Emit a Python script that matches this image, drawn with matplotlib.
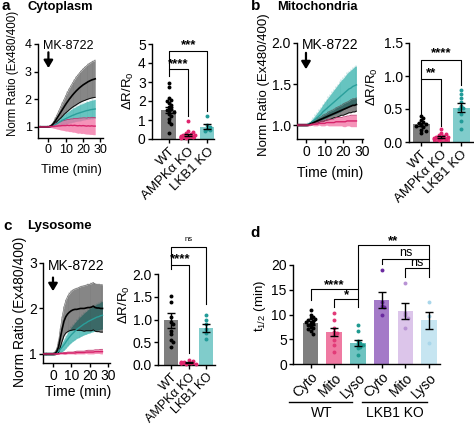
import numpy as np
import matplotlib
matplotlib.use('Agg')
import matplotlib.pyplot as plt
from matplotlib.lines import Line2D

plt.rcParams['font.family'] = ['Liberation Sans', 'DejaVu Sans']
plt.rcParams['mathtext.fontset'] = 'custom'
plt.rcParams['mathtext.rm'] = 'Liberation Sans'
plt.rcParams['mathtext.it'] = 'Liberation Sans:italic'

# ---------------- data ----------------
time_min = list(range(-5, 28))

# panel a (cytoplasm) time course
a_wt_mean = [1.0, 1.0, 1.0, 1.0, 1.0, 1.0, 1.02, 1.06, 1.13, 1.22, 1.32, 1.42, 1.52, 1.62, 1.72, 1.82, 1.91,
             2.0, 2.08, 2.16, 2.23, 2.3, 2.36, 2.42, 2.47, 2.52, 2.56, 2.6, 2.64, 2.67, 2.7, 2.72, 2.74]
a_wt_sem = [0.02, 0.02, 0.02, 0.02, 0.02, 0.02, 0.03, 0.04, 0.06, 0.09, 0.12, 0.16, 0.2, 0.24, 0.27, 0.31, 0.35,
            0.38, 0.41, 0.44, 0.47, 0.5, 0.52, 0.54, 0.56, 0.58, 0.6, 0.61, 0.63, 0.64, 0.65, 0.66, 0.67]
a_lkb_mean = [1.0, 1.0, 1.0, 1.0, 1.0, 1.0, 1.01, 1.03, 1.06, 1.09, 1.12, 1.16, 1.2, 1.24, 1.27, 1.3, 1.33,
              1.36, 1.39, 1.42, 1.44, 1.47, 1.49, 1.51, 1.53, 1.55, 1.57, 1.59, 1.6, 1.62, 1.63, 1.64, 1.65]
a_lkb_sem = [0.02, 0.02, 0.02, 0.02, 0.02, 0.02, 0.03, 0.04, 0.06, 0.08, 0.1, 0.12, 0.14, 0.16, 0.18, 0.2, 0.21,
             0.22, 0.24, 0.25, 0.26, 0.27, 0.28, 0.29, 0.3, 0.3, 0.31, 0.32, 0.32, 0.33, 0.33, 0.34, 0.34]
a_ampk_mean = [1.0, 1.0, 1.0, 1.0, 1.0, 1.0, 1.01, 1.02, 1.02, 1.03, 1.03, 1.04, 1.04, 1.05, 1.05, 1.05, 1.06,
               1.05, 1.06, 1.05, 1.06, 1.05, 1.04, 1.05, 1.04, 1.05, 1.04, 1.03, 1.04, 1.03, 1.04, 1.03, 1.03]
a_ampk_sem = [0.02, 0.02, 0.02, 0.02, 0.02, 0.02, 0.03, 0.05, 0.07, 0.09, 0.11, 0.13, 0.15, 0.17, 0.18, 0.2, 0.21,
              0.22, 0.23, 0.24, 0.25, 0.26, 0.27, 0.27, 0.28, 0.28, 0.29, 0.29, 0.3, 0.3, 0.31, 0.31, 0.31]

# panel b (mitochondria) time course
b_wt_mean = [1.0, 1.0, 1.0, 1.0, 1.0, 1.0, 1.0, 1.01, 1.02, 1.03, 1.04, 1.05, 1.06, 1.07, 1.08, 1.09, 1.1,
             1.11, 1.12, 1.13, 1.14, 1.15, 1.16, 1.17, 1.18, 1.19, 1.2, 1.21, 1.22, 1.23, 1.24, 1.24, 1.25]
b_wt_sem = [0.01, 0.01, 0.01, 0.01, 0.01, 0.01, 0.01, 0.01, 0.02, 0.02, 0.02, 0.03, 0.03, 0.03, 0.04, 0.04, 0.04,
            0.05, 0.05, 0.05, 0.05, 0.06, 0.06, 0.06, 0.06, 0.07, 0.07, 0.07, 0.07, 0.08, 0.08, 0.08, 0.08]
b_lkb_mean = [1.0, 1.0, 1.0, 1.0, 1.0, 1.0, 1.01, 1.02, 1.03, 1.05, 1.07, 1.09, 1.11, 1.13, 1.16, 1.18, 1.2,
              1.22, 1.24, 1.26, 1.28, 1.3, 1.32, 1.34, 1.36, 1.38, 1.4, 1.42, 1.44, 1.45, 1.47, 1.48, 1.49]
b_lkb_sem = [0.01, 0.01, 0.01, 0.01, 0.01, 0.01, 0.01, 0.02, 0.03, 0.04, 0.05, 0.06, 0.07, 0.08, 0.09, 0.1, 0.11,
             0.12, 0.13, 0.14, 0.15, 0.16, 0.17, 0.18, 0.19, 0.19, 0.2, 0.21, 0.21, 0.22, 0.22, 0.23, 0.23]
b_ampk_mean = [1.0, 1.0, 1.0, 1.0, 1.0, 1.0, 1.0, 1.0, 1.01, 1.01, 1.01, 1.01, 1.02, 1.02, 1.02, 1.02, 1.03,
               1.03, 1.03, 1.03, 1.03, 1.04, 1.04, 1.04, 1.04, 1.04, 1.04, 1.05, 1.05, 1.05, 1.05, 1.05, 1.05]
b_ampk_sem = [0.01, 0.01, 0.01, 0.01, 0.01, 0.01, 0.01, 0.01, 0.01, 0.02, 0.02, 0.02, 0.02, 0.03, 0.03, 0.03, 0.03,
              0.04, 0.04, 0.04, 0.04, 0.05, 0.05, 0.05, 0.05, 0.06, 0.06, 0.06, 0.06, 0.07, 0.07, 0.07, 0.07]

# panel c (lysosome) time course
c_wt_mean = [1.0, 1.0, 1.0, 1.0, 1.0, 1.0, 1.01, 1.05, 1.15, 1.35, 1.55, 1.72, 1.82, 1.88, 1.92, 1.95, 1.97,
             1.98, 1.98, 1.99, 2.0, 2.0, 2.0, 2.01, 2.02, 2.02, 2.03, 2.05, 2.02, 2.01, 2.01, 2.0, 2.0]
c_wt_sem = [0.02, 0.02, 0.02, 0.02, 0.02, 0.02, 0.03, 0.06, 0.12, 0.2, 0.27, 0.32, 0.36, 0.39, 0.41, 0.43, 0.44,
            0.45, 0.46, 0.47, 0.48, 0.49, 0.5, 0.5, 0.51, 0.51, 0.52, 0.52, 0.52, 0.52, 0.52, 0.52, 0.52]
c_lkb_mean = [1.0, 1.0, 1.0, 1.0, 1.0, 1.0, 1.01, 1.03, 1.06, 1.1, 1.15, 1.2, 1.26, 1.32, 1.37, 1.42, 1.46,
              1.5, 1.54, 1.57, 1.6, 1.63, 1.66, 1.68, 1.71, 1.73, 1.75, 1.77, 1.79, 1.81, 1.82, 1.84, 1.85]
c_lkb_sem = [0.02, 0.02, 0.02, 0.02, 0.02, 0.02, 0.02, 0.04, 0.06, 0.08, 0.1, 0.12, 0.14, 0.15, 0.16, 0.17, 0.18,
             0.19, 0.2, 0.21, 0.22, 0.23, 0.24, 0.25, 0.26, 0.27, 0.27, 0.28, 0.28, 0.29, 0.29, 0.3, 0.3]
c_ampk_mean = [1.0, 1.0, 1.0, 1.0, 1.0, 1.0, 1.0, 1.0, 1.0, 1.01, 1.01, 1.01, 1.01, 1.02, 1.02, 1.02, 1.02,
               1.02, 1.03, 1.03, 1.03, 1.03, 1.03, 1.04, 1.04, 1.04, 1.04, 1.04, 1.05, 1.05, 1.05, 1.05, 1.05]
c_ampk_sem = [0.01, 0.01, 0.01, 0.01, 0.01, 0.01, 0.01, 0.01, 0.01, 0.01, 0.01, 0.02, 0.02, 0.02, 0.02, 0.02, 0.02,
              0.03, 0.03, 0.03, 0.03, 0.03, 0.03, 0.03, 0.04, 0.04, 0.04, 0.04, 0.04, 0.04, 0.04, 0.05, 0.05]

# bar panels: categories, bar means/sem and individual points
genotypes = ['WT', 'AMPKα KO', 'LKB1 KO']

a_bar_mean = [1.53, 0.22, 0.65]
a_bar_sem = [0.14, 0.06, 0.12]
a_pts = [
    [2.95, 2.75, 2.15, 2.05, 2.0, 1.9, 1.8, 1.7, 1.6, 1.55, 1.45, 1.4, 1.3, 1.2, 1.05, 0.9, 0.8, 0.32],
    [0.95, 0.4, 0.35, 0.3, 0.25, 0.22, 0.2, 0.18, 0.15, 0.12, 0.1, 0.08, 0.06, 0.05],
    [1.2, 0.75, 0.65, 0.55, 0.45, 0.4],
]

b_bar_mean = [0.27, 0.08, 0.52]
b_bar_sem = [0.025, 0.013, 0.065]
b_pts = [
    [0.4, 0.36, 0.33, 0.3, 0.29, 0.27, 0.26, 0.24, 0.22, 0.18, 0.16, 0.13],
    [0.2, 0.14, 0.12, 0.1, 0.09, 0.08, 0.07, 0.06, 0.05, 0.04, 0.06, 0.03],
    [0.79, 0.72, 0.66, 0.6, 0.55, 0.52, 0.5, 0.42, 0.32, 0.2],
]

c_bar_mean = [0.98, 0.05, 0.82]
c_bar_sem = [0.16, 0.01, 0.09]
c_pts = [
    [1.52, 1.38, 1.05, 0.95, 0.9, 0.75, 0.68, 0.55, 0.5, 0.4],
    [0.1, 0.08, 0.07, 0.06, 0.05, 0.05, 0.04, 0.03, 0.02],
    [1.1, 1.0, 0.9, 0.8, 0.7, 0.58],
]

d_labels = ['Cyto', 'Mito', 'Lyso', 'Cyto', 'Mito', 'Lyso']
d_groups = ['WT', 'LKB1 KO']
d_bar_mean = [8.2, 6.5, 4.2, 12.9, 10.7, 8.8]
d_bar_sem = [0.4, 0.85, 0.65, 1.6, 1.6, 1.7]
d_pts = [
    [10.9, 9.9, 9.5, 9.2, 9.0, 8.8, 8.7, 8.5, 8.3, 8.0, 7.8, 7.5, 7.2, 7.0, 6.6, 6.1],
    [10.4, 8.8, 7.2, 6.5, 6.2, 5.8, 4.8, 3.8, 2.5],
    [7.9, 6.6, 4.6, 4.3, 4.0, 3.8, 3.5, 3.2, 1.9],
    [19.0, 12.5, 11.8, 11.5, 9.8],
    [16.4, 10.4, 9.8, 9.3, 7.3],
    [12.5, 9.6, 4.3],
]

# ---------------- styling ----------------
W, H = 474, 424
fig = plt.figure(figsize=(W / 100, H / 100), dpi=100)

GRAY = '#7f7f7f'
PINK_BAR, PINK_DOT = '#e8457f', '#e0246d'
TEAL_BAR, TEAL_DOT = '#80cccb', '#229b98'
TEAL_BAND, TEAL_LINE = '#6dc8c4', '#2a9f9b'
PINK_BAND, PINK_LINE = '#f26fa2', '#d6236a'
bar_cols = [GRAY, PINK_BAR, TEAL_BAR]
dot_cols = ['black', PINK_DOT, TEAL_DOT]
d_bar_cols = [GRAY, '#ef7aa2', '#6ec3c0', '#a47ac8', '#dcc5ea', '#c6e5f1']
d_dot_cols = ['black', '#e23a77', '#1f9a90', '#6a2a9f', '#b892d4', '#a9d6ea']


def add_ax(x0, y0, x1, y1):
    return fig.add_axes([x0 / W, 1 - y1 / H, (x1 - x0) / W, (y1 - y0) / H])


def ftext(x, y, s, **kw):
    fig.text(x / W, 1 - y / H, s, **kw)


def style(ax, fs):
    for s in ['top', 'right']:
        ax.spines[s].set_visible(False)
    for s in ['left', 'bottom']:
        ax.spines[s].set_linewidth(1.0)
    ax.tick_params(direction='out', length=3, width=1, labelsize=fs, pad=1.5)


def timecourse(ax, wt, lkb, ampk, fs):
    t = np.array(time_min)
    # teal
    m, s = np.array(lkb[0]), np.array(lkb[1])
    ax.fill_between(t, m - s, m + s, color=TEAL_BAND, lw=0, zorder=1)
    ax.errorbar(t, m, yerr=s, fmt='none', ecolor=TEAL_LINE, elinewidth=0.3, capsize=1, capthick=0.3,
                alpha=0.45, zorder=1.5)
    ax.plot(t, m, color=TEAL_LINE, lw=1.0, zorder=4)
    # WT
    m, s = np.array(wt[0]), np.array(wt[1])
    ax.fill_between(t, m - s, m + s, color='black', alpha=0.45, lw=0, zorder=2)
    ax.errorbar(t, m, yerr=s, fmt='none', ecolor='#5a5a5a', elinewidth=0.3, capsize=1, capthick=0.3,
                alpha=0.5, zorder=2.5)
    ax.plot(t, m - s, color='black', lw=0.6, zorder=2.6)
    ax.plot(t, m + s, color='#555555', lw=0.4, zorder=2.6)
    ax.plot(t, m, color='black', lw=1.2, zorder=5)
    # pink
    m, s = np.array(ampk[0]), np.array(ampk[1])
    ax.fill_between(t, m - s, m + s, color=PINK_BAND, alpha=0.75, lw=0, zorder=3)
    ax.plot(t, m + s, color='#c2336e', lw=0.6, zorder=3.2)
    ax.plot(t, m, color=PINK_LINE, lw=1.0, zorder=6)
    ax.set_xticks([0, 10, 20, 30])
    style(ax, fs)


def swarm(vals, center, pxx, pxy, r=2.8):
    vals = np.array(vals, dtype=float)
    order = np.argsort(-vals)
    placed = []
    xs = np.zeros(len(vals))
    for i in order:
        y = vals[i] * pxy
        for k in [0, 1, -1, 2, -2, 3, -3]:
            x = k * r * 0.85
            if all((x - px) ** 2 + (y - py) ** 2 >= r * r for px, py in placed):
                break
        placed.append((x, y))
        xs[i] = center + x / pxx
    return xs


def bars(ax, means, sems, pts, bcols, dcols, pxx, pxy, width, fs):
    pos = np.arange(len(means))
    ax.bar(pos, means, width=width, color=bcols, zorder=1)
    for i in range(len(means)):
        xs = swarm(pts[i], pos[i], pxx, pxy)
        ax.scatter(xs, pts[i], s=8, color=dcols[i], lw=0, zorder=3, clip_on=False)
        ax.errorbar(pos[i], means[i], yerr=sems[i], fmt='none', ecolor='black', elinewidth=1,
                    capsize=3, capthick=1, zorder=4)
    style(ax, fs)


def bracket(ax, x1, x2, y, b1, b2, txt, fs, ty, bold=True):
    ax.plot([x1, x1, x2, x2], [b1, y, y, b2], color='black', lw=0.8, clip_on=False, zorder=5)
    ax.text((x1 + x2) / 2, ty, txt, ha='center', va='center', fontsize=fs,
            fontweight='bold' if bold else 'normal', clip_on=False)


ARROW = dict(arrowstyle='-|>,head_length=0.5,head_width=0.3', color='black', lw=1.6,
             mutation_scale=9, shrinkA=0, shrinkB=0)

# ---------------- panel a ----------------
ax = add_ax(38, 44, 103, 138)
timecourse(ax, (a_wt_mean, a_wt_sem), (a_lkb_mean, a_lkb_sem), (a_ampk_mean, a_ampk_sem), 9)
ax.set_xlim(-6, 31.5)
ax.set_ylim(0.6, 4)
ax.set_yticks([1, 2, 3, 4])
ax.text(-3.0, 3.92, 'MK-8722', fontsize=9, va='center', ha='left')
ax.annotate('', xy=(0, 3.13), xytext=(0, 3.7), arrowprops=ARROW)
ftext(13, 73, 'Norm Ratio (Ex480/400)', rotation=90, ha='center', va='center', fontsize=8.3)
ftext(71, 170, 'Time (min)', ha='center', va='center', fontsize=9.3)

ax = add_ax(152, 44, 214, 139)
bars(ax, a_bar_mean, a_bar_sem, a_pts, bar_cols, dot_cols, 19.25, 19.0, 0.78, 10)
ax.set_xlim(-0.88, 2.34)
ax.set_ylim(0, 5)
ax.set_yticks([0, 1, 2, 3, 4, 5])
ax.set_xticks([0, 1, 2])
ax.set_xticklabels(genotypes, rotation=45, ha='right', rotation_mode='anchor', fontsize=9.5)
bracket(ax, 0, 1, 3.68, 3.3, 1.2, '****', 9.5, 3.93)
bracket(ax, 0, 2, 4.63, 3.68, 1.45, '***', 9.5, 4.93)
ftext(128, 91, r'$\Delta$R/R$_0$', rotation=90, ha='center', va='center', fontsize=9.5)

# ---------------- panel b ----------------
ax = add_ax(297, 43, 363, 139)
timecourse(ax, (b_wt_mean, b_wt_sem), (b_lkb_mean, b_lkb_sem), (b_ampk_mean, b_ampk_sem), 10)
ax.set_xlim(-4.8, 30.5)
ax.set_ylim(0.83, 2.0)
ax.set_yticks([1.0, 1.5, 2.0])
ax.set_yticklabels(['1.0', '1.5', '2.0'])
ax.text(-2.0, 1.975, 'MK-8722', fontsize=10, va='center', ha='left')
ax.annotate('', xy=(0, 1.68), xytext=(0, 1.88), arrowprops=ARROW)
ftext(264, 85, 'Norm Ratio (Ex480/400)', rotation=90, ha='center', va='center', fontsize=9.5)
ftext(330, 173, 'Time (min)', ha='center', va='center', fontsize=10)

ax = add_ax(409, 43, 473, 142)
bars(ax, b_bar_mean, b_bar_sem, b_pts, bar_cols, dot_cols, 20.0, 66.0, 0.85, 10)
ax.set_xlim(-0.6, 2.6)
ax.set_ylim(0, 1.5)
ax.set_yticks([0, 0.5, 1.0, 1.5])
ax.set_yticklabels(['0.0', '0.5', '1.0', '1.5'])
ax.set_xticks([0, 1, 2])
ax.set_xticklabels(genotypes, rotation=45, ha='right', rotation_mode='anchor', fontsize=9.5)
bracket(ax, 0, 1, 0.955, 0.41, 0.25, '**', 9.5, 1.04)
bracket(ax, 0, 2, 1.25, 0.955, 0.86, '****', 9.5, 1.34)
ftext(372, 87, r'$\Delta$R/R$_0$', rotation=90, ha='center', va='center', fontsize=9.5)

# ---------------- panel c ----------------
ax = add_ax(43, 263, 110, 363)
timecourse(ax, (c_wt_mean, c_wt_sem), (c_lkb_mean, c_lkb_sem), (c_ampk_mean, c_ampk_sem), 10)
ax.set_xlim(-5.45, 31.1)
ax.set_ylim(0.8, 3.0)
ax.set_yticks([1, 2, 3])
ax.text(-2.8, 2.93, 'MK-8722', fontsize=10, va='center', ha='left')
ax.annotate('', xy=(0, 2.38), xytext=(0, 2.68), arrowprops=ARROW)
ftext(20, 312, 'Norm Ratio (Ex480/400)', rotation=90, ha='center', va='center', fontsize=10)
ftext(78, 392, 'Time (min)', ha='center', va='center', fontsize=10)

ax = add_ax(158, 274, 215, 365)
bars(ax, c_bar_mean, c_bar_sem, c_pts, bar_cols, dot_cols, 17.5, 45.5, 0.78, 10)
ax.set_xlim(-0.74, 2.51)
ax.set_ylim(0, 2.0)
ax.set_yticks([0, 0.5, 1.0, 1.5, 2.0])
ax.set_yticklabels(['0.0', '0.5', '1.0', '1.5', '2.0'])
ax.set_xticks([0, 1, 2])
ax.set_xticklabels(genotypes, rotation=45, ha='right', rotation_mode='anchor', fontsize=9)
bracket(ax, 0, 1, 2.2, 2.12, 0.26, '****', 9.5, 2.32)
bracket(ax, 0, 2, 2.59, 2.2, 1.35, 'ns', 5.5, 2.75, bold=False)
ftext(124, 305, r'$\Delta$R/R$_0$', rotation=90, ha='center', va='center', fontsize=9.5)

# ---------------- panel d ----------------
ax = add_ax(293, 265, 440, 364)
bars(ax, d_bar_mean, d_bar_sem, d_pts, d_bar_cols, d_dot_cols, 23.7, 4.95, 0.66, 10)
ax.set_xlim(-0.74, 5.46)
ax.set_ylim(0, 20)
ax.set_yticks([0, 5, 10, 15, 20])
ax.set_xticks(range(6))
ax.set_xticklabels(d_labels, rotation=45, ha='right', rotation_mode='anchor', fontsize=10)
bracket(ax, 0, 2, 15.1, 12.9, 13.1, '****', 9.5, 15.9)
bracket(ax, 1, 2, 13.1, 11.6, 11.6, '*', 9.5, 13.9)
bracket(ax, 2, 5, 24.0, 15.1, 21.3, '**', 9.5, 24.8)
bracket(ax, 3, 5, 21.3, 20.3, 19.3, 'ns', 9, 22.4, bold=False)
bracket(ax, 4, 5, 19.3, 17.6, 17.6, 'ns', 9, 20.4, bold=False)
ftext(260, 306, r't$_{1/2}$ (min)', rotation=90, ha='center', va='center', fontsize=9.5)
fig.add_artist(Line2D([289 / W, 352 / W], [1 - 402 / H] * 2, color='black', lw=1))
fig.add_artist(Line2D([362 / W, 427 / W], [1 - 402 / H] * 2, color='black', lw=1))
ftext(322, 413, d_groups[0], ha='center', va='center', fontsize=10)
ftext(395, 413, d_groups[1], ha='center', va='center', fontsize=10)

# ---------------- panel titles ----------------
ftext(1, 6, 'a', fontsize=11, fontweight='bold', ha='left', va='center')
ftext(27, 7, 'Cytoplasm', fontsize=9.3, fontweight='bold', ha='left', va='center')
ftext(251, 6, 'b', fontsize=11, fontweight='bold', ha='left', va='center')
ftext(277, 7, 'Mitochondria', fontsize=9.3, fontweight='bold', ha='left', va='center')
ftext(3, 226, 'c', fontsize=11, fontweight='bold', ha='left', va='center')
ftext(27, 226, 'Lysosome', fontsize=9.5, fontweight='bold', ha='left', va='center')
ftext(250, 233, 'd', fontsize=11, fontweight='bold', ha='left', va='center')

fig.savefig('out.png', dpi=100)
